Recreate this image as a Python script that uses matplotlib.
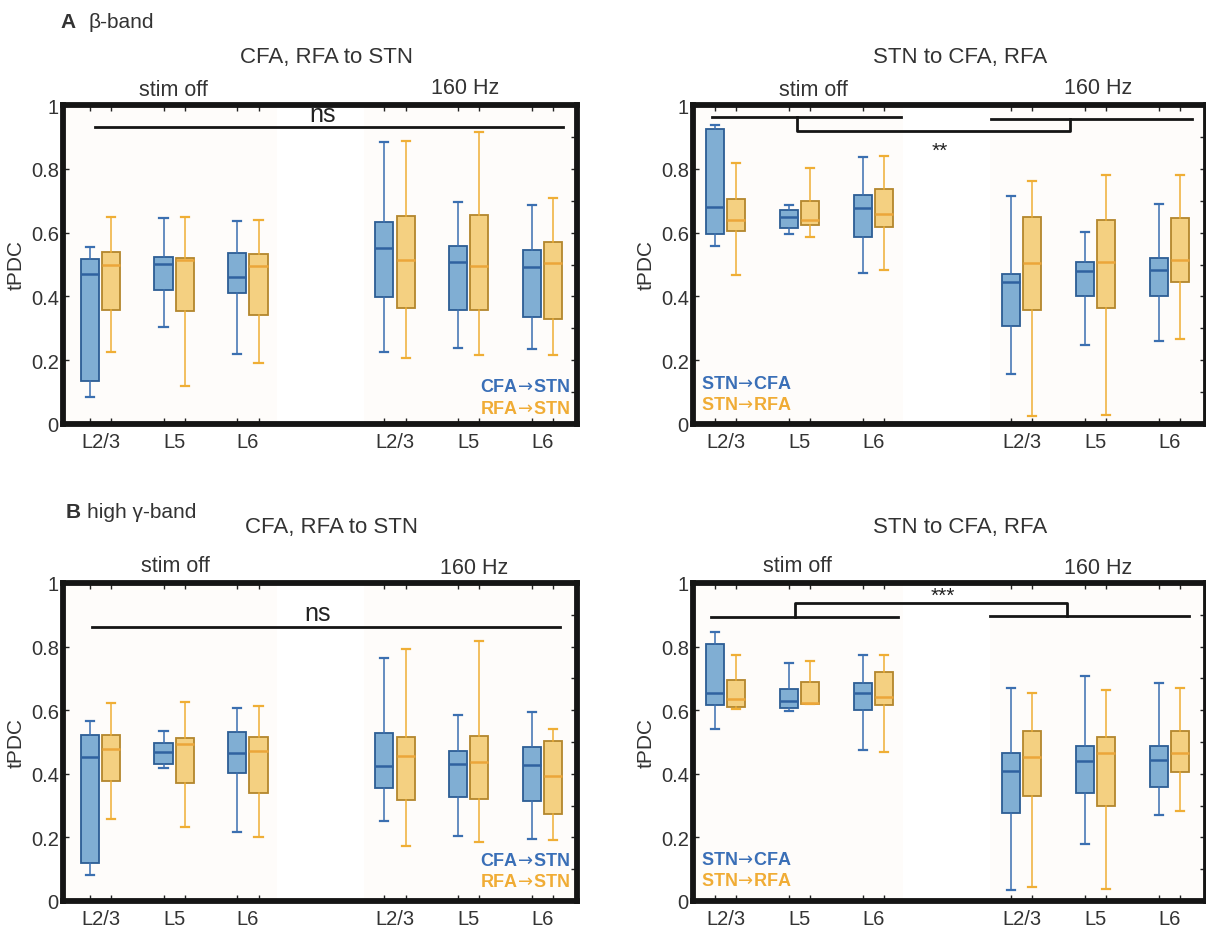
import matplotlib.pyplot as plt

plt.rcParams['font.family'] = ['Liberation Sans', 'DejaVu Sans']
plt.rcParams['mathtext.fontset'] = 'dejavusans'
plt.rcParams['text.color'] = '#333333'
plt.rcParams['axes.labelcolor'] = '#333333'
plt.rcParams['xtick.color'] = '#222222'
plt.rcParams['ytick.color'] = '#222222'
plt.rcParams['xtick.labelcolor'] = '#333333'
plt.rcParams['ytick.labelcolor'] = '#333333'

# --- dados: (min, Q1, mediana, Q3, max) por camada, stim off L2/3, L5, L6 e 160 Hz L2/3, L5, L6 ---
layers = ["L2/3", "L5", "L6", "L2/3", "L5", "L6"]
centers = [1, 2, 3, 5, 6, 7]

beta_cfa_stn = [(0.086, 0.136, 0.471, 0.516, 0.555), (0.304, 0.421, 0.501, 0.524, 0.646),
                (0.220, 0.410, 0.461, 0.537, 0.636), (0.227, 0.398, 0.552, 0.634, 0.885),
                (0.238, 0.356, 0.508, 0.559, 0.696), (0.236, 0.335, 0.492, 0.545, 0.688)]
beta_rfa_stn = [(0.225, 0.358, 0.497, 0.539, 0.649), (0.118, 0.353, 0.513, 0.521, 0.649),
                (0.192, 0.342, 0.494, 0.532, 0.641), (0.207, 0.363, 0.513, 0.651, 0.887),
                (0.215, 0.358, 0.495, 0.654, 0.916), (0.215, 0.329, 0.506, 0.571, 0.707)]
beta_stn_cfa = [(0.558, 0.597, 0.681, 0.924, 0.937), (0.595, 0.615, 0.649, 0.670, 0.686),
                (0.473, 0.586, 0.676, 0.717, 0.836), (0.157, 0.308, 0.445, 0.471, 0.715),
                (0.248, 0.400, 0.480, 0.507, 0.601), (0.259, 0.400, 0.484, 0.521, 0.691)]
beta_stn_rfa = [(0.468, 0.605, 0.641, 0.704, 0.817), (0.586, 0.623, 0.641, 0.698, 0.803),
                (0.484, 0.618, 0.658, 0.736, 0.840), (0.026, 0.358, 0.505, 0.649, 0.762),
                (0.028, 0.363, 0.508, 0.641, 0.782), (0.266, 0.444, 0.513, 0.646, 0.782)]
gamma_cfa_stn = [(0.082, 0.119, 0.454, 0.523, 0.567), (0.418, 0.431, 0.470, 0.497, 0.534),
                 (0.216, 0.401, 0.464, 0.533, 0.608), (0.252, 0.355, 0.424, 0.528, 0.764),
                 (0.205, 0.328, 0.431, 0.471, 0.585), (0.194, 0.315, 0.428, 0.485, 0.595)]
gamma_rfa_stn = [(0.257, 0.378, 0.478, 0.523, 0.624), (0.233, 0.372, 0.494, 0.513, 0.625),
                 (0.200, 0.339, 0.473, 0.517, 0.614), (0.173, 0.317, 0.455, 0.517, 0.794),
                 (0.187, 0.320, 0.438, 0.520, 0.818), (0.191, 0.273, 0.394, 0.504, 0.540)]
gamma_stn_cfa = [(0.541, 0.617, 0.654, 0.809, 0.846), (0.599, 0.607, 0.630, 0.667, 0.750),
                 (0.475, 0.602, 0.654, 0.686, 0.775), (0.034, 0.277, 0.410, 0.466, 0.670),
                 (0.179, 0.340, 0.439, 0.488, 0.709), (0.271, 0.357, 0.444, 0.488, 0.687)]
gamma_stn_rfa = [(0.604, 0.610, 0.636, 0.694, 0.775), (0.618, 0.620, 0.624, 0.690, 0.756),
                 (0.467, 0.615, 0.641, 0.720, 0.775), (0.044, 0.331, 0.452, 0.534, 0.655),
                 (0.037, 0.300, 0.465, 0.515, 0.665), (0.284, 0.407, 0.464, 0.536, 0.670)]

BLUE = dict(fill="#80aed3", edge="#2c5d94", med="#2f62a0", whisk="#3b6fb0", text="#3a6fb7")
GOLD = dict(fill="#f4d081", edge="#b3862c", med="#eca63a", whisk="#efae35", text="#f0ac35")

W, H = 1206, 929
fig = plt.figure(figsize=(W / 100, H / 100), dpi=100)


def px_text(x, y, s, **kw):
    fig.text(x / W, 1 - y / H, s, ha=kw.pop("ha", "center"), va=kw.pop("va", "center"), **kw)


def draw_boxes(ax, rows, offset, cor):
    stats = [dict(whislo=r[0], q1=r[1], med=r[2], q3=r[3], whishi=r[4], fliers=[]) for r in rows]
    pos = [c + offset for c in centers]
    ax.bxp(stats, positions=pos, widths=0.245, capwidths=0.11, patch_artist=True, manage_ticks=False,
           boxprops=dict(facecolor=cor["fill"], edgecolor=cor["edge"], linewidth=1.3),
           medianprops=dict(color=cor["med"], linewidth=1.8),
           whiskerprops=dict(color=cor["whisk"], linewidth=1.1),
           capprops=dict(color=cor["whisk"], linewidth=1.6))
    return pos


def painel(rect, xlim, azul, laranja, nomes, leg_pos, leg_ha):
    ax = fig.add_axes(rect)
    ax.set_xlim(*xlim)
    ax.set_ylim(0, 1)
    ax.axvspan(xlim[0], 3.40, color="#fefcfa", zorder=0, lw=0)
    ax.axvspan(4.58, xlim[1], color="#fefcfa", zorder=0, lw=0)
    p1 = draw_boxes(ax, azul, -0.145, BLUE)
    p2 = draw_boxes(ax, laranja, 0.145, GOLD)

    for s in ax.spines.values():
        s.set_linewidth(4.2)
        s.set_color("#151515")
    ax.set_xticks(sorted(p1 + p2))
    ax.set_xticklabels([])
    ax.set_xticks(centers, layers, minor=True)
    ax.tick_params(axis="x", which="major", direction="in", top=True, length=4, width=1)
    ax.tick_params(axis="x", which="minor", length=0, pad=6, labelsize=14.5)
    ax.set_yticks([0, 0.2, 0.4, 0.6, 0.8, 1.0], ["0", "0.2", "0.4", "0.6", "0.8", "1"])
    ax.set_yticks([0.1, 0.3, 0.5, 0.7, 0.9], minor=True)
    ax.tick_params(axis="y", which="major", direction="in", right=True, length=4, width=1,
                   pad=3, labelsize=14.5)
    ax.tick_params(axis="y", which="minor", direction="in", left=False, right=True, length=4, width=1)
    ax.set_ylabel("tPDC", fontsize=15, labelpad=4)

    ax.text(leg_pos[0], leg_pos[1], nomes[0], transform=ax.transAxes, ha=leg_ha, va="center",
            fontsize=13, fontweight="bold", color=BLUE["text"])
    ax.text(leg_pos[0], leg_pos[1] - 0.066, nomes[1], transform=ax.transAxes, ha=leg_ha, va="center",
            fontsize=13, fontweight="bold", color=GOLD["text"])
    return ax


def chave(ax, y_esq, y_dir, y_top, x_esq, x_dir, x_mid, texto, y_txt, x_txt, fs):
    # duas barras horizontais ligadas por um colchete
    ax.plot(x_esq, [y_esq, y_esq], color="#151515", lw=2)
    ax.plot(x_dir, [y_dir, y_dir], color="#151515", lw=2)
    ax.plot([x_mid[0], x_mid[0], x_mid[1], x_mid[1]], [y_esq, y_top, y_top, y_dir],
            color="#151515", lw=2)
    ax.text(x_txt, y_txt, texto, ha="center", va="center", fontsize=fs, color="#222222")


# seta fina, com menos espaço que a relação padrão do mathtext
ARROW = r"$\!\rightarrow\!$"

# --- A: banda beta ---
ax1 = painel([63 / W, 1 - 425 / H, 514 / W, 319 / H], (0.49, 7.47), beta_cfa_stn, beta_rfa_stn,
             ["CFA" + ARROW + "STN", "RFA" + ARROW + "STN"], (0.986, 0.116), "right")
ax1.plot([0.93, 7.28], [0.931, 0.931], color="#151515", lw=2)
ax1.text(4.02, 0.972, "ns", ha="center", va="center", fontsize=18, color="#222222")

ax2 = painel([693 / W, 1 - 425 / H, 513.5 / W, 319 / H], (0.56, 7.5), beta_stn_cfa, beta_stn_rfa,
             ["STN" + ARROW + "CFA", "STN" + ARROW + "RFA"], (0.016, 0.128), "left")
chave(ax2, 0.962, 0.956, 0.918, [0.82, 3.37], [4.59, 7.30], [1.97, 5.66], "**", 0.858, 3.9, 15)

# --- B: banda gama alta ---
ax3 = painel([63 / W, 1 - 902 / H, 514 / W, 318 / H], (0.49, 7.47), gamma_cfa_stn, gamma_rfa_stn,
             ["CFA" + ARROW + "STN", "RFA" + ARROW + "STN"], (0.986, 0.126), "right")
ax3.plot([0.88, 7.24], [0.862, 0.862], color="#151515", lw=2)
ax3.text(3.95, 0.905, "ns", ha="center", va="center", fontsize=18, color="#222222")

ax4 = painel([693 / W, 1 - 902 / H, 513.5 / W, 318 / H], (0.56, 7.5), gamma_stn_cfa, gamma_stn_rfa,
             ["STN" + ARROW + "CFA", "STN" + ARROW + "RFA"], (0.016, 0.132), "left")
chave(ax4, 0.893, 0.896, 0.937, [0.80, 3.33], [4.57, 7.27], [1.94, 5.61], "***", 0.962, 3.93, 15)

# --- títulos ---
px_text(60, 22, "A", fontsize=15, fontweight="bold", ha="left")
px_text(89, 22, "\u03b2-band", fontsize=15, ha="left")
px_text(66, 513, "B", fontsize=15, fontweight="bold", ha="left")
px_text(87, 513, "high \u03b3-band", fontsize=15, ha="left")

px_text(326, 58, "CFA, RFA to STN", fontsize=16)
px_text(960, 58, "STN to CFA, RFA", fontsize=16)
px_text(331, 527, "CFA, RFA to STN", fontsize=16)
px_text(960, 527, "STN to CFA, RFA", fontsize=16)

px_text(173, 91, "stim off", fontsize=15.5)
px_text(465, 89, "160 Hz", fontsize=15.5)
px_text(813, 91, "stim off", fontsize=15.5)
px_text(1098, 89, "160 Hz", fontsize=15.5)
px_text(175, 567, "stim off", fontsize=15.5)
px_text(474, 569, "160 Hz", fontsize=15.5)
px_text(797, 567, "stim off", fontsize=15.5)
px_text(1098, 569, "160 Hz", fontsize=15.5)

fig.savefig("out.png", dpi=100, facecolor="white")
